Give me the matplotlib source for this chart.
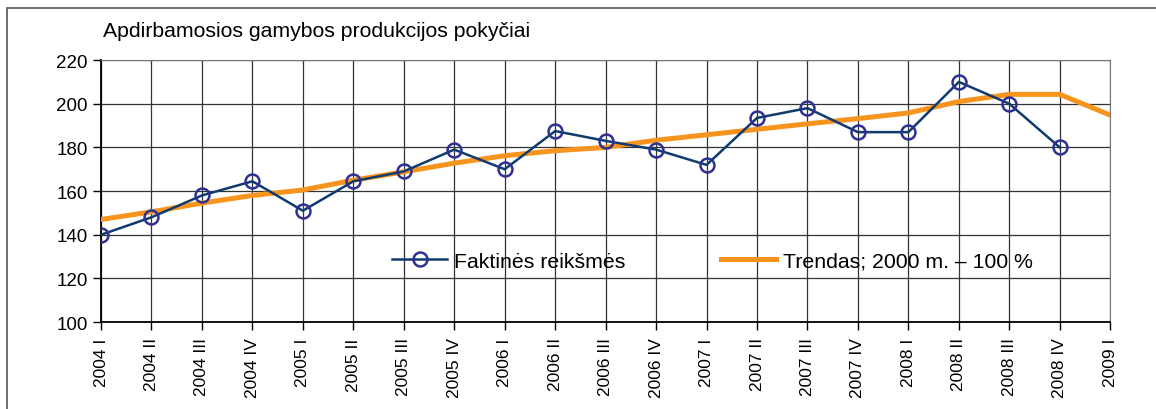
import matplotlib.pyplot as plt
from matplotlib.patches import Rectangle

plt.rcParams['font.family'] = ['Liberation Sans', 'DejaVu Sans']

quarters = ['2004 I', '2004 II', '2004 III', '2004 IV',
            '2005 I', '2005 II', '2005 III', '2005 IV',
            '2006 I', '2006 II', '2006 III', '2006 IV',
            '2007 I', '2007 II', '2007 III', '2007 IV',
            '2008 I', '2008 II', '2008 III', '2008 IV', '2009 I']

faktines = [140, 148, 158, 164.5, 151, 164.5, 169, 179, 170, 187.5,
            183, 179, 172, 193.5, 198, 187, 187, 210, 200, 180]

trendas = [147, 150.5, 154.5, 158, 160.5, 165, 168.8, 172.8, 176.2, 178.5,
           180, 183.3, 185.8, 188.3, 190.8, 193.2, 195.8, 201, 204.3, 204.3, 194.8]

fig = plt.figure(figsize=(11.56, 4.10), dpi=100)
ax = fig.add_axes([0.0874, 0.212, 0.873, 0.639])

x_f = list(range(len(faktines)))
x_t = list(range(len(trendas)))

ax.plot(x_f, faktines, color='#0f3b6e', linewidth=1.8, marker='o', markersize=10,
        markerfacecolor='none', markeredgecolor='#2e3192', markeredgewidth=1.8,
        label='Faktinės reikšmės', zorder=4)
ax.plot(x_t, trendas, color='#f7941d', linewidth=3.6, label='Trendas; 2000 m. – 100 %',
        zorder=3)

ax.set_xlim(0, len(quarters) - 1)
ax.set_ylim(100, 220)
ax.set_yticks(range(100, 221, 20))
ax.set_xticks(range(len(quarters)))
ax.set_xticklabels(quarters, rotation=90, fontsize=12.5)
ax.tick_params(axis='y', labelsize=13.5, length=6, width=1, direction='out')
ax.tick_params(axis='x', length=6, width=1, direction='out', pad=5)

ax.grid(True, color='#333333', linewidth=0.9)
ax.set_axisbelow(True)
for side in ['top', 'right']:
    ax.spines[side].set_color('#777777')
for side in ['left', 'bottom']:
    ax.spines[side].set_color('black')
    ax.spines[side].set_linewidth(1.3)

fig.text(0.089, 0.922, 'Apdirbamosios gamybos produkcijos pokyčiai', fontsize=15.3,
         ha='left', va='center')

ax.legend(loc='center', bbox_to_anchor=(0.606, 0.233), ncol=2, frameon=False,
          fontsize=15.3, handlelength=2.6, handletextpad=0.33, columnspacing=4.5)

fig.patches.append(Rectangle((0.006, -0.1), 1.2, 1.078, transform=fig.transFigure,
                             fill=False, edgecolor='#555555', linewidth=1.2))

fig.savefig('out.png', dpi=100)
